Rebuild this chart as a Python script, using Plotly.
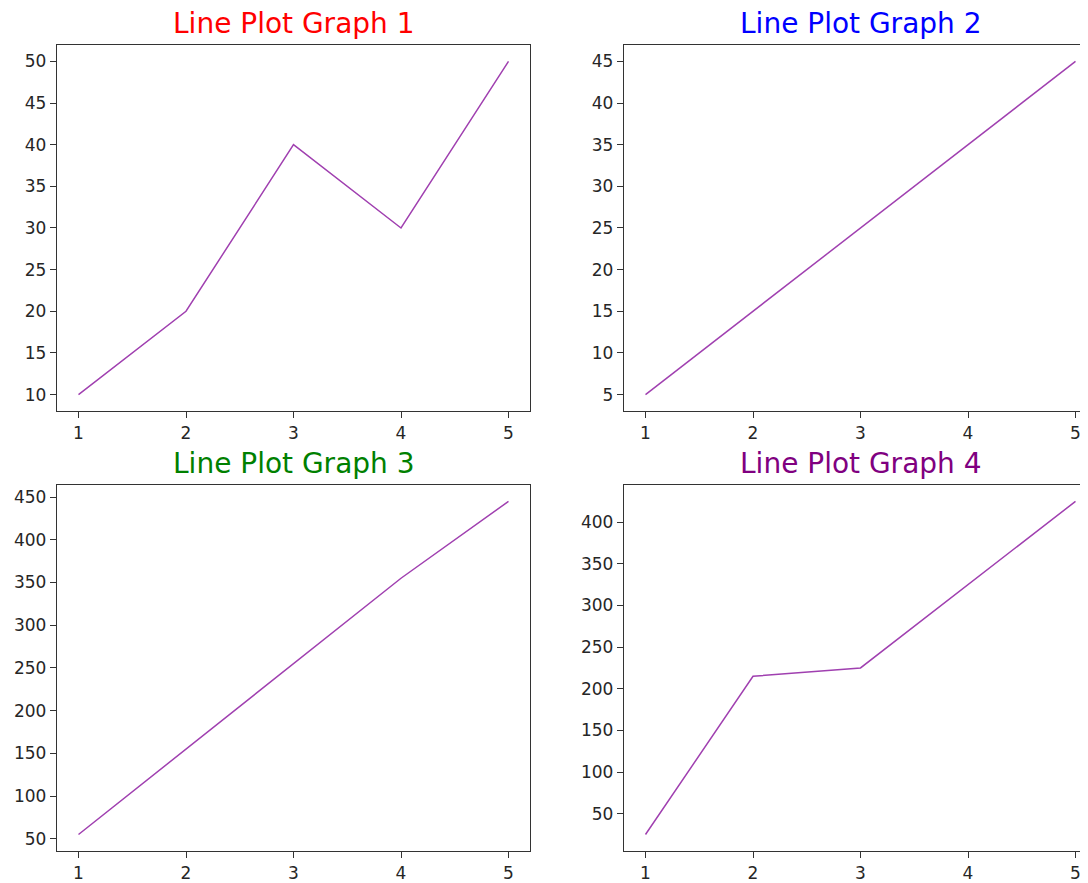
import plotly.graph_objects as go

x_vals = [1, 2, 3, 4, 5]
y_graph1 = [10, 20, 40, 30, 50]
y_graph2 = [5, 15, 25, 35, 45]
y_graph3 = [55, 155, 255, 355, 445]
y_graph4 = [25, 215, 225, 325, 425]

titles = ["Line Plot Graph 1", "Line Plot Graph 2", "Line Plot Graph 3", "Line Plot Graph 4"]
title_colors = ["#ff0000", "#0000ff", "#008000", "#800080"]
series = [y_graph1, y_graph2, y_graph3, y_graph4]
y_dticks = [5, 5, 50, 50]

OFF = 8  # page body margin
W, H = 1088 - OFF, 883 - OFF
line_color = "#a040b0"

# pixel layout in page coordinates (matplotlib-like)
col_px = [(57, 530), (624, 1088)]
row_px = [(45, 414), (488, 857)]
px_per_unit = (530 - 57) / 4.4

fig = go.Figure()
font_family = "DejaVu Sans, Liberation Sans, sans-serif"

for i, ys in enumerate(series):
    r, c = divmod(i, 2)
    ax = "" if i == 0 else str(i + 1)
    x0, x1 = col_px[c][0] - OFF, col_px[c][1] - OFF
    y0, y1 = row_px[r][0] - OFF, row_px[r][1] - OFF
    xdom = [x0 / W, min(1.0, x1 / W)]
    ydom = [1 - y1 / H, 1 - y0 / H]
    ymin, ymax = min(ys), max(ys)
    pad = (ymax - ymin) * 0.05
    xr = [0.8, 0.8 + (x1 - x0) / px_per_unit]
    fig.add_trace(go.Scatter(x=x_vals, y=ys, mode="lines",
                             line=dict(color=line_color, width=1.5),
                             xaxis="x" + ax, yaxis="y" + ax, showlegend=False))
    common = dict(showgrid=False, zeroline=False, showline=True, linecolor="#333333",
                  linewidth=1.3, ticks="outside", ticklen=6, tickcolor="#333333",
                  tickwidth=1.2,
                  tickfont=dict(family=font_family, size=17, color="#262626"))
    fig.layout["xaxis" + ax] = dict(domain=xdom, range=xr, anchor="y" + ax,
                                    tickmode="linear", tick0=1, dtick=1,
                                    mirror=True, **common)
    fig.layout["yaxis" + ax] = dict(domain=ydom, range=[ymin - pad, ymax + pad],
                                    anchor="x" + ax, tickmode="linear", tick0=0,
                                    dtick=y_dticks[i], mirror=(c == 0), **common)
    full_x0, full_x1 = col_px[c][0] - OFF, col_px[c][0] - OFF + (530 - 57)
    fig.add_annotation(text=titles[i], xref="paper", yref="paper",
                       x=(full_x0 + full_x1) / 2 / W,
                       y=ydom[1], xanchor="center", yanchor="bottom", yshift=3,
                       showarrow=False,
                       font=dict(family=font_family, size=28, color=title_colors[i]))

fig.update_layout(width=W, height=H, margin=dict(l=0, r=0, t=0, b=0),
                  paper_bgcolor="white", plot_bgcolor="white")

fig.write_html("out.html")
